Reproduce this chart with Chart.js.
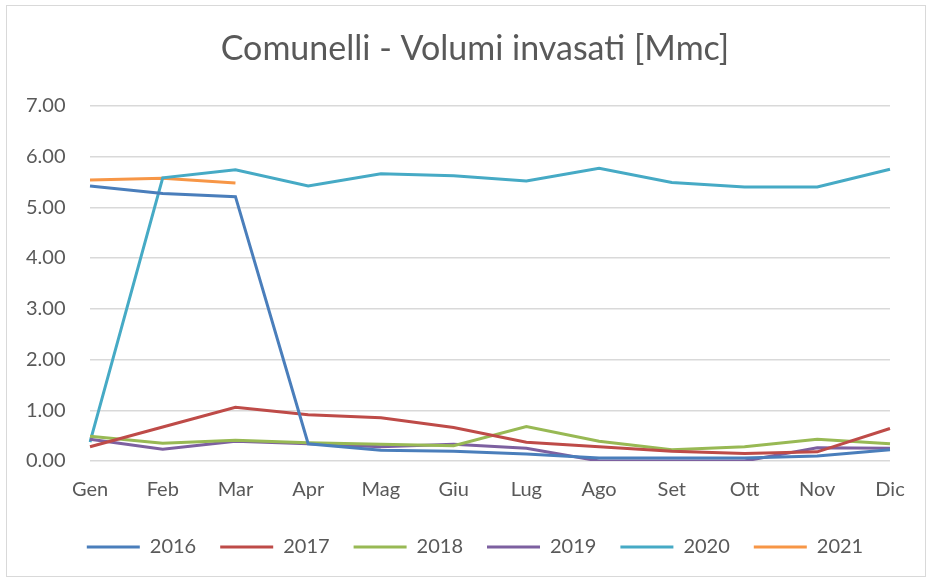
<!DOCTYPE html>
<html>
<head>
<meta charset="utf-8">
<script src="https://cdn.jsdelivr.net/npm/chart.js@4"></script>
<style>
  body { margin: 0; background: #fff; }
  #wrap { position: relative; width: 930px; height: 581px; }
  #bordo { position: absolute; left: 6px; top: 5px; right: 4px; bottom: 4px; border: 1.5px solid #d9d9d9; pointer-events: none; }
</style>
</head>
<body>
<div id="wrap">
  <canvas id="grafico" width="930" height="581"></canvas>
  <div id="bordo"></div>
</div>
<script>
// Mesi (asse x)
const mesi = ["Gen", "Feb", "Mar", "Apr", "Mag", "Giu", "Lug", "Ago", "Set", "Ott", "Nov", "Dic"];

// Volumi invasati per anno [Mmc]
const v2016 = [5.42, 5.27, 5.21, 0.34, 0.21, 0.19, 0.14, 0.06, 0.06, 0.06, 0.10, 0.22];
const v2017 = [0.28, 0.67, 1.06, 0.91, 0.85, 0.66, 0.37, 0.28, 0.19, 0.15, 0.18, 0.64];
const v2018 = [0.49, 0.35, 0.41, 0.36, 0.33, 0.30, 0.68, 0.39, 0.22, 0.28, 0.43, 0.34];
const v2019 = [0.43, 0.23, 0.39, 0.34, 0.28, 0.33, 0.25, 0.00, 0.00, 0.00, 0.26, 0.25];
const v2020 = [0.37, 5.58, 5.74, 5.42, 5.66, 5.62, 5.52, 5.77, 5.49, 5.40, 5.40, 5.75];
const v2021 = [5.54, 5.57, 5.48];

// Tick asse y
const tickY = [0, 1, 2, 3, 4, 5, 6, 7];

const font = "Lato, 'Open Sans', sans-serif";
const grigio = "#595959";

function serie(label, data, colore) {
  return {
    label: label,
    data: data,
    borderColor: colore,
    backgroundColor: colore,
    borderWidth: 3,
    pointRadius: 0,
    pointHoverRadius: 0,
    tension: 0,
    fill: false
  };
}

new Chart(document.getElementById("grafico"), {
  type: "line",
  data: {
    labels: mesi,
    datasets: [
      serie("2016", v2016, "#4a7ebb"),
      serie("2017", v2017, "#be4b48"),
      serie("2018", v2018, "#98b954"),
      serie("2019", v2019, "#7d60a0"),
      serie("2020", v2020, "#46aac5"),
      serie("2021", v2021, "#f79646")
    ]
  },
  options: {
    responsive: false,
    animation: false,
    layout: { padding: { left: 60, right: 40, top: 16, bottom: 14 } },
    scales: {
      x: {
        offset: false,
        grid: { display: false },
        border: { display: false },
        ticks: { color: grigio, font: { family: font, size: 20 }, padding: 9, maxRotation: 0 },
        afterFit: (s) => { s.height = 52; }
      },
      y: {
        min: tickY[0],
        max: tickY[tickY.length - 1],
        afterBuildTicks: (s) => { s.ticks = tickY.map((v) => ({ value: v })); },
        grid: { color: "#d9d9d9", lineWidth: 1.5, drawTicks: false },
        border: { display: false },
        ticks: {
          color: grigio,
          font: { family: font, size: 20 },
          mirror: true, // etichette fuori dall'area della scala, senza ritaglio
          padding: -64,
          callback: (v) => Number(v).toFixed(2)
        },
        afterFit: (s) => { s.width = 30; }
      }
    },
    plugins: {
      title: {
        display: true,
        text: "Comunelli - Volumi invasati [Mmc]",
        color: grigio,
        font: { family: font, size: 34, weight: "normal" },
        padding: { top: 13, bottom: 36 }
      },
      legend: {
        position: "bottom",
        labels: {
          usePointStyle: true,
          pointStyle: "line",
          pointStyleWidth: 53,
          color: grigio,
          font: { family: font, size: 20 },
          padding: 24
        }
      },
      tooltip: { enabled: false }
    }
  }
});
</script>
</body>
</html>
